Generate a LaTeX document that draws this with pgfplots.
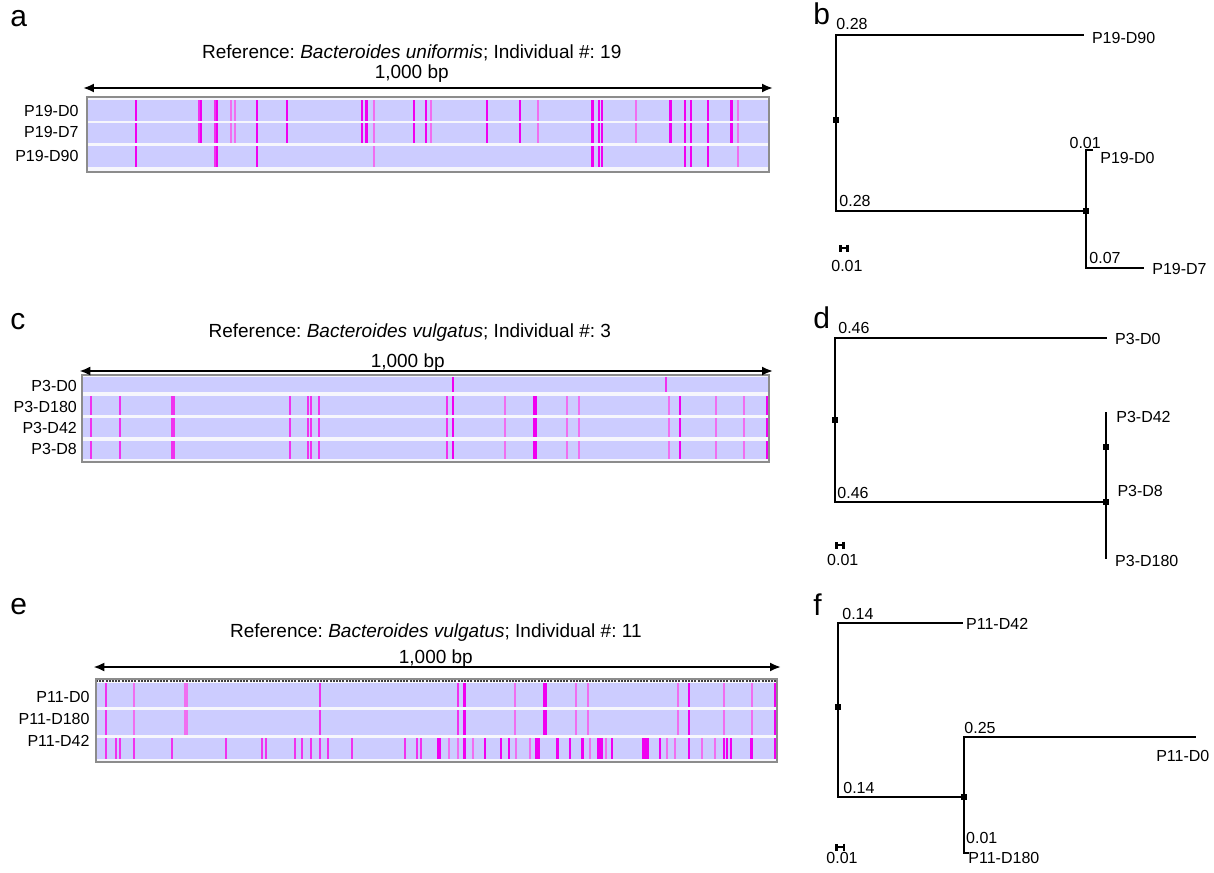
\documentclass[border=0pt]{standalone}
\usepackage{fontspec}
\setmainfont{Liberation Sans}
\usepackage{pgfplots}
\usepackage{pgfplotstable}
\pgfplotsset{compat=1.18}
\usetikzlibrary{arrows.meta}
\frenchspacing
\definecolor{lav}{RGB}{204,204,255}
\definecolor{strip}{RGB}{246,246,252}
\definecolor{magD}{RGB}{240,0,240}
\definecolor{magM}{RGB}{240,50,238}
\definecolor{magL}{RGB}{240,110,240}
\definecolor{frame}{RGB}{140,140,140}
\newcommand\ttl{\fontsize{9.5}{11}\selectfont}
\newcommand\lab{\fontsize{8}{9.5}\selectfont}
\newcommand\letf{\fontsize{15}{17}\selectfont}

\pgfplotsset{
  aln/.style={scale only axis, anchor=north west, xmin=-3, xmax=1003, ymin=0,
    y dir=reverse, hide axis, clip=false},
  snps/.style={scatter, only marks, mark=|, scatter src=explicit symbolic, mark size=#1,
    scatter/classes={d={mark=|, draw=magD, line width=1.25pt},
                     m={mark=|, draw=magM, line width=1pt},
                     l={mark=|, draw=magL, line width=0.95pt}}},
  tree/.style={anchor=north west, y=0.5pt, y dir=reverse, ymin=0, ymax=872,
    xmin=0, hide axis, clip=false},
  tline/.style={black, line width=1.15pt, line cap=rect, mark=none},
  node/.style={only marks, mark=square*, mark size=1.2pt, black},
  sbar/.style={black, line width=1.3pt, mark=none, {Bar[width=3.5pt]}-{Bar[width=3.5pt]}},
}

% ---- SNP positions (bp along the 1,000 bp window); c = d (strong), m, l (faint)
\pgfplotstableread{
bp c
69 d
162 m
165 d
186 m
189 d
209 l
215 l
248 d
292 d
403 d
409 d
420 l
479 d
497 d
505 l
587 d
636 d
662 l
743 d
752 d
757 d
807 l
858 d
879 d
888 d
913 d
948 d
957 l
}\snpAearly
\pgfplotstableread{
bp c
69 d
186 m
189 d
248 d
420 l
743 d
752 d
757 d
879 d
888 d
913 d
957 l
}\snpAlate
\pgfplotstableread{
bp c
540 d
852 m
}\snpCzero
\pgfplotstableread{
bp c
10 m
53 m
129 m
132 m
302 m
328 m
332 m
344 m
531 m
540 d
616 l
659 d
662 d
707 l
725 l
857 l
873 d
925 l
966 l
1000 d
}\snpCrest
\pgfplotstableread{
bp c
12 m
53 l
129 l
131 l
328 m
532 m
541 d
616 l
659 d
662 d
706 l
724 l
857 l
873 d
925 l
966 l
1000 d
}\snpEa
\pgfplotstableread{
bp c
12 m
27 m
32 m
53 m
109 m
189 m
242 m
248 m
291 m
301 m
315 m
328 m
340 m
375 m
453 m
471 m
477 m
502 d
505 d
518 l
532 l
541 d
554 l
572 d
595 d
607 d
617 l
638 l
648 d
651 d
679 d
697 d
716 d
727 l
739 d
742 d
744 d
750 l
759 d
805 d
809 d
812 d
830 d
840 l
852 l
873 d
892 l
911 l
925 d
929 d
935 d
965 d
966 d
1000 d
}\snpEb

\begin{document}
\begin{tikzpicture}
\path[use as bounding box] (0,0) rectangle (607pt,-436pt);

% panel letters
\node[anchor=base west, font=\letf, inner sep=0pt] at (5pt,-13.5pt) {a};
\node[anchor=base west, font=\letf, inner sep=0pt] at (406.5pt,-12.5pt) {b};
\node[anchor=base west, font=\letf, inner sep=0pt] at (5pt,-164.5pt) {c};
\node[anchor=base west, font=\letf, inner sep=0pt] at (406.5pt,-164pt) {d};
\node[anchor=base west, font=\letf, inner sep=0pt] at (5pt,-307pt) {e};
\node[anchor=base west, font=\letf, inner sep=0pt] at (406.5pt,-307.5pt) {f};

% ================= a =================
\begin{axis}[aln, at={(43.5pt,-48.5pt)}, width=341pt, height=37.5pt, ymax=75]
\fill[strip] (axis cs:-3,0) rectangle (axis cs:1003,75);
\fill[lav] (axis cs:-3,3) rectangle (axis cs:1003,24);
\fill[lav] (axis cs:-3,26) rectangle (axis cs:1003,46);
\fill[lav] (axis cs:-3,49) rectangle (axis cs:1003,70);
\addplot[snps=5.25pt] table[x=bp, y expr=13.5, meta=c] {\snpAearly};
\addplot[snps=5pt] table[x=bp, y expr=36, meta=c] {\snpAearly};
\addplot[snps=5.25pt] table[x=bp, y expr=59.5, meta=c] {\snpAlate};
\draw[frame, line width=1pt] (axis cs:-3,0) rectangle (axis cs:1003,75);
\draw[line width=1.3pt, {Latex[length=5.5pt,width=4.5pt]}-{Latex[length=5.5pt,width=4.5pt]}] (axis cs:-9,-9) -- (axis cs:1009,-9);
\node[anchor=base, font=\ttl] at (axis cs:476,-18) {1,000 bp};
\node[anchor=base, font=\ttl] at (axis cs:476,-38) {Reference: \textit{Bacteroides uniformis}; Individual \#: 19};
\node[anchor=east, font=\lab, inner sep=0pt] at (axis cs:-15,14) {P19-D0};
\node[anchor=east, font=\lab, inner sep=0pt] at (axis cs:-15,35) {P19-D7};
\node[anchor=east, font=\lab, inner sep=0pt] at (axis cs:-15,59) {P19-D90};
\end{axis}

% ================= c =================
\begin{axis}[aln, at={(41pt,-187.5pt)}, width=343.5pt, height=43.5pt, ymax=87]
\fill[strip] (axis cs:-3,0) rectangle (axis cs:1003,87);
\fill[lav] (axis cs:-3,2) rectangle (axis cs:1003,17);
\fill[lav] (axis cs:-3,21) rectangle (axis cs:1003,40);
\fill[lav] (axis cs:-3,43) rectangle (axis cs:1003,62);
\fill[lav] (axis cs:-3,66) rectangle (axis cs:1003,84);
\addplot[snps=3.75pt] table[x=bp, y expr=9.5, meta=c] {\snpCzero};
\addplot[snps=4.75pt] table[x=bp, y expr=30.5, meta=c] {\snpCrest};
\addplot[snps=4.75pt] table[x=bp, y expr=52.5, meta=c] {\snpCrest};
\addplot[snps=4.5pt] table[x=bp, y expr=75, meta=c] {\snpCrest};
\draw[frame, line width=1pt] (axis cs:-3,0) rectangle (axis cs:1003,87);
\draw[line width=1.3pt, {Latex[length=5.5pt,width=4.5pt]}-{Latex[length=5.5pt,width=4.5pt]}] (axis cs:-7,-4) -- (axis cs:1009,-4);
\node[anchor=base, font=\ttl] at (axis cs:474,-8) {1,000 bp};
\node[anchor=base, font=\ttl] at (axis cs:477,-38) {Reference: \textit{Bacteroides vulgatus}; Individual \#: 3};
\node[anchor=east, font=\lab, inner sep=0pt] at (axis cs:-10,11) {P3-D0};
\node[anchor=east, font=\lab, inner sep=0pt] at (axis cs:-10,32) {P3-D180};
\node[anchor=east, font=\lab, inner sep=0pt] at (axis cs:-10,53) {P3-D42};
\node[anchor=east, font=\lab, inner sep=0pt] at (axis cs:-10,74) {P3-D8};
\end{axis}

% ================= e =================
\begin{axis}[aln, at={(48pt,-339.5pt)}, width=340.5pt, height=41.5pt, ymax=83]
\fill[strip] (axis cs:-3,0) rectangle (axis cs:1003,83);
\fill[lav] (axis cs:-3,4) rectangle (axis cs:1003,28);
\fill[lav] (axis cs:-3,31) rectangle (axis cs:1003,56);
\fill[lav] (axis cs:-3,59) rectangle (axis cs:1003,80);
\draw[black!75, line width=1pt, dash pattern=on 1pt off 0.6pt] (axis cs:-3,2) -- (axis cs:1003,2);
\addplot[snps=6pt] table[x=bp, y expr=16, meta=c] {\snpEa};
\addplot[snps=6.25pt] table[x=bp, y expr=43.5, meta=c] {\snpEa};
\addplot[snps=5.25pt] table[x=bp, y expr=69.5, meta=c] {\snpEb};
\draw[frame, line width=1pt] (axis cs:-3,0) rectangle (axis cs:1003,83);
\draw[line width=1.3pt, {Latex[length=5.5pt,width=4.5pt]}-{Latex[length=5.5pt,width=4.5pt]}] (axis cs:-7,-12) -- (axis cs:1009,-12);
\node[anchor=base, font=\ttl] at (axis cs:499,-16) {1,000 bp};
\node[anchor=base, font=\ttl] at (axis cs:499,-42) {Reference: \textit{Bacteroides vulgatus}; Individual \#: 11};
\node[anchor=east, font=\lab, inner sep=0pt] at (axis cs:-12,18) {P11-D0};
\node[anchor=east, font=\lab, inner sep=0pt] at (axis cs:-12,40) {P11-D180};
\node[anchor=east, font=\lab, inner sep=0pt] at (axis cs:-12,62) {P11-D42};
\end{axis}

% ================= b (tree) =================
\begin{axis}[tree, at={(418pt,0pt)}, x=440pt, xmax=0.45]
\addplot[tline] coordinates {(0.28,35) (0,35) (0,211) (0.284,211)};
\addplot[tline] coordinates {(0.291,150) (0.284,150) (0.284,268) (0.349,268)};
\addplot[node] coordinates {(0,120) (0.284,211)};
\addplot[sbar] coordinates {(0.0034,248) (0.0148,248)};
\node[anchor=base west, font=\lab, inner sep=0pt] at (axis cs:0.0,29) {0.28};
\node[anchor=base west, font=\lab, inner sep=0pt] at (axis cs:0.0035,206) {0.28};
\node[anchor=base west, font=\lab, inner sep=0pt] at (axis cs:0.265,148) {0.01};
\node[anchor=base west, font=\lab, inner sep=0pt] at (axis cs:0.2875,263) {0.07};
\node[anchor=base west, font=\lab, inner sep=0pt] at (axis cs:0.2905,43) {P19-D90};
\node[anchor=base west, font=\lab, inner sep=0pt] at (axis cs:0.2999,163) {P19-D0};
\node[anchor=base west, font=\lab, inner sep=0pt] at (axis cs:0.359,274) {P19-D7};
\node[anchor=base west, font=\lab, inner sep=0pt] at (axis cs:-0.0057,271) {0.01};
\end{axis}

% ================= d (tree) =================
\begin{axis}[tree, at={(417.5pt,0pt)}, x=294.5pt, xmax=0.6]
\addplot[tline] coordinates {(0.46,338) (0,338) (0,502) (0.46,502)};
\addplot[tline] coordinates {(0.46,413) (0.46,558)};
\addplot[node] coordinates {(0,420) (0.46,447) (0.46,502)};
\addplot[sbar] coordinates {(0.0,545) (0.017,545)};
\node[anchor=base west, font=\lab, inner sep=0pt] at (axis cs:0.005,333) {0.46};
\node[anchor=base west, font=\lab, inner sep=0pt] at (axis cs:0.0035,498) {0.46};
\node[anchor=base west, font=\lab, inner sep=0pt] at (axis cs:0.475,344) {P3-D0};
\node[anchor=base west, font=\lab, inner sep=0pt] at (axis cs:0.477,422) {P3-D42};
\node[anchor=base west, font=\lab, inner sep=0pt] at (axis cs:0.479,496) {P3-D8};
\node[anchor=base west, font=\lab, inner sep=0pt] at (axis cs:0.475,566) {P3-D180};
\node[anchor=base west, font=\lab, inner sep=0pt] at (axis cs:-0.014,565) {0.01};
\end{axis}

% ================= f (tree) =================
\begin{axis}[tree, at={(419pt,0pt)}, x=450pt, xmax=0.42]
\addplot[tline] coordinates {(0.138,623) (0,623) (0,797) (0.14,797)};
\addplot[tline] coordinates {(0.396,737) (0.14,737) (0.14,853) (0.1445,853)};
\addplot[node] coordinates {(0,707) (0.14,797)};
\addplot[sbar] coordinates {(-0.003,847) (0.008,847)};
\node[anchor=base west, font=\lab, inner sep=0pt] at (axis cs:0.0044,619) {0.14};
\node[anchor=base west, font=\lab, inner sep=0pt] at (axis cs:0.0055,793) {0.14};
\node[anchor=base west, font=\lab, inner sep=0pt] at (axis cs:0.14,733) {0.25};
\node[anchor=base west, font=\lab, inner sep=0pt] at (axis cs:0.142,843) {0.01};
\node[anchor=base west, font=\lab, inner sep=0pt] at (axis cs:0.142,629) {P11-D42};
\node[anchor=base east, font=\lab, inner sep=0pt] at (axis cs:0.413,761) {P11-D0};
\node[anchor=base west, font=\lab, inner sep=0pt] at (axis cs:0.1445,863) {P11-D180};
\node[anchor=base west, font=\lab, inner sep=0pt] at (axis cs:-0.0133,863) {0.01};
\end{axis}
\end{tikzpicture}
\end{document}
